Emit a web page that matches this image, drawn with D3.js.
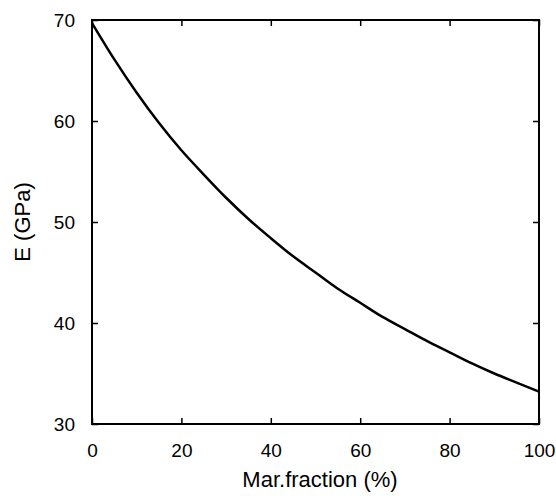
<!DOCTYPE html>
<html>
<head>
<meta charset="utf-8">
<script src="https://cdn.jsdelivr.net/npm/d3@7"></script>
<style>
  body { margin: 0; background: #fff; }
  text { font-family: "Liberation Sans", Arial, sans-serif; fill: #000; }
</style>
</head>
<body>
<svg></svg>
<script>
const width = 556;
const height = 496;
const margin = {top: 20, right: 17, bottom: 72, left: 92};

// fraction of martensite (%) and Young's modulus (GPa)
const fraction = [0, 5, 10, 15, 20, 25, 30, 35, 40, 45, 50, 55, 60, 65, 70, 75, 80, 85, 90, 95, 100];
const modulus = [69.7, 66.1, 62.8, 59.8, 57.1, 54.7, 52.4, 50.3, 48.4, 46.6, 45.0, 43.4, 42.0, 40.6, 39.4, 38.2, 37.1, 36.0, 35.0, 34.1, 33.2];
const xTicks = [0, 20, 40, 60, 80, 100];
const yTicks = [30, 40, 50, 60, 70];

const data = fraction.map((f, i) => ({x: f, y: modulus[i]}));

const svg = d3.select('svg')
  .attr('width', width)
  .attr('height', height);

const x = d3.scaleLinear().domain([0, 100]).range([margin.left, width - margin.right]);
const y = d3.scaleLinear().domain([30, 70]).range([height - margin.bottom, margin.top]);

const tickLen = 6;
const axisStyle = g => {
  g.select('.domain').remove();
  g.selectAll('line').attr('stroke', '#000').attr('stroke-width', 1.5);
  g.selectAll('text').style('font-size', '19px').attr('fill', '#000');
};

// bottom axis, ticks inward
svg.append('g')
  .attr('transform', `translate(0,${y(30)})`)
  .call(d3.axisBottom(x).tickValues(xTicks).tickSizeInner(-tickLen).tickSizeOuter(0).tickPadding(20))
  .call(axisStyle);

// top ticks
svg.append('g')
  .attr('transform', `translate(0,${y(70)})`)
  .call(d3.axisTop(x).tickValues(xTicks).tickSizeInner(-tickLen).tickSizeOuter(0).tickFormat(''))
  .call(axisStyle);

// left axis
svg.append('g')
  .attr('transform', `translate(${x(0)},0)`)
  .call(d3.axisLeft(y).tickValues(yTicks).tickSizeInner(-tickLen).tickSizeOuter(0).tickPadding(17))
  .call(axisStyle);

// right ticks
svg.append('g')
  .attr('transform', `translate(${x(100)},0)`)
  .call(d3.axisRight(y).tickValues(yTicks).tickSizeInner(-tickLen).tickSizeOuter(0).tickFormat(''))
  .call(axisStyle);

// frame
svg.append('rect')
  .attr('x', x(0))
  .attr('y', y(70))
  .attr('width', x(100) - x(0))
  .attr('height', y(30) - y(70))
  .attr('fill', 'none')
  .attr('stroke', '#000')
  .attr('stroke-width', 2);

const line = d3.line()
  .x(d => x(d.x))
  .y(d => y(d.y))
  .curve(d3.curveMonotoneX);

svg.append('path')
  .datum(data)
  .attr('d', line)
  .attr('fill', 'none')
  .attr('stroke', '#000')
  .attr('stroke-width', 2.5);

svg.append('text')
  .attr('x', 320)
  .attr('y', 487)
  .attr('text-anchor', 'middle')
  .style('font-size', '22px')
  .text('Mar.fraction (%)');

svg.append('text')
  .attr('transform', `translate(30,${222}) rotate(-90)`)
  .attr('text-anchor', 'middle')
  .style('font-size', '22px')
  .text('E (GPa)');
</script>
</body>
</html>
